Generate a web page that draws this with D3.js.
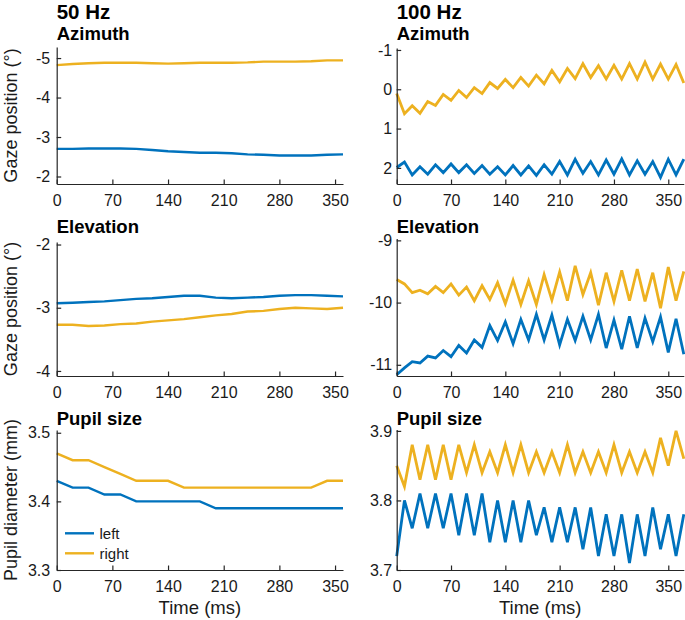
<!DOCTYPE html>
<html>
<head>
<meta charset="utf-8">
<script src="https://cdn.jsdelivr.net/npm/d3@7"></script>
<style>
body { margin: 0; background: #fff; }
text { font-family: "Liberation Sans", Arial, Helvetica, sans-serif; }
</style>
</head>
<body>
<svg id="chart" width="685" height="620"></svg>
<script>
// time stamps (ms)
var time50 = [0, 20, 40, 60, 80, 100, 120, 140, 160, 180, 200, 220, 240, 260, 280, 300, 320, 340, 360];
var time100 = [0, 10, 20, 30, 40, 50, 60, 70, 80, 90, 100, 110, 120, 130, 140, 150, 160, 170, 180, 190,
               200, 210, 220, 230, 240, 250, 260, 270, 280, 290, 300, 310, 320, 330, 340, 350, 360, 370];
var xTicks = [0, 70, 140, 210, 280, 350];

// 50 Hz
var azLeft50 = [-2.70, -2.70, -2.71, -2.71, -2.71, -2.70, -2.67, -2.64, -2.62, -2.60, -2.60, -2.59, -2.56, -2.55, -2.53, -2.53, -2.53, -2.55, -2.56];
var azRight50 = [-4.82, -4.85, -4.87, -4.88, -4.88, -4.88, -4.87, -4.86, -4.87, -4.88, -4.88, -4.88, -4.89, -4.91, -4.91, -4.91, -4.92, -4.94, -4.94];
var elLeft50 = [-2.93, -2.92, -2.91, -2.90, -2.88, -2.86, -2.85, -2.83, -2.81, -2.81, -2.84, -2.85, -2.84, -2.83, -2.81, -2.80, -2.80, -2.81, -2.82];
var elRight50 = [-3.27, -3.27, -3.29, -3.28, -3.26, -3.25, -3.22, -3.20, -3.18, -3.15, -3.12, -3.10, -3.06, -3.05, -3.02, -3.00, -3.01, -3.02, -3.00];
var puLeft50 = [3.43, 3.42, 3.42, 3.41, 3.41, 3.40, 3.40, 3.40, 3.40, 3.40, 3.39, 3.39, 3.39, 3.39, 3.39, 3.39, 3.39, 3.39, 3.39];
var puRight50 = [3.47, 3.46, 3.46, 3.45, 3.44, 3.43, 3.43, 3.43, 3.42, 3.42, 3.42, 3.42, 3.42, 3.42, 3.42, 3.42, 3.42, 3.43, 3.43];

// 100 Hz
var azLeft100 = [1.99, 1.85, 2.18, 1.97, 2.16, 1.92, 2.12, 1.90, 2.12, 1.92, 2.14, 1.94, 2.16, 1.97, 2.18, 1.94, 2.18, 1.95, 2.19,
                 1.92, 2.16, 1.84, 2.18, 1.78, 2.14, 1.84, 2.18, 1.80, 2.16, 1.77, 2.18, 1.82, 2.16, 1.84, 2.24, 1.78, 2.18, 1.78];
var azRight100 = [0.11, 0.62, 0.42, 0.61, 0.31, 0.41, 0.13, 0.28, 0.03, 0.21, -0.04, 0.11, -0.17, -0.02, -0.25, -0.04, -0.30, -0.08, -0.36,
                  -0.14, -0.48, -0.19, -0.53, -0.27, -0.65, -0.30, -0.60, -0.26, -0.61, -0.26, -0.65, -0.26, -0.69, -0.26, -0.64, -0.26, -0.63, -0.16];
var elLeft100 = [-11.16, -11.05, -10.95, -10.97, -10.86, -10.89, -10.77, -10.87, -10.69, -10.81, -10.60, -10.72, -10.37, -10.61, -10.31, -10.66, -10.27, -10.60, -10.19,
                 -10.60, -10.20, -10.68, -10.27, -10.61, -10.22, -10.60, -10.19, -10.73, -10.28, -10.75, -10.22, -10.73, -10.25, -10.63, -10.23, -10.80, -10.26, -10.83];
var elRight100 = [-9.63, -9.70, -9.84, -9.80, -9.86, -9.74, -9.84, -9.70, -9.88, -9.75, -9.97, -9.73, -9.95, -9.68, -10.02, -9.64, -10.03, -9.65, -10.03,
                  -9.55, -9.96, -9.51, -9.97, -9.41, -9.87, -9.52, -10.04, -9.52, -9.98, -9.48, -9.97, -9.46, -9.98, -9.52, -10.09, -9.43, -9.97, -9.50];
var puLeft100 = [3.72, 3.80, 3.76, 3.81, 3.76, 3.81, 3.76, 3.81, 3.75, 3.81, 3.75, 3.81, 3.74, 3.80, 3.74, 3.80, 3.74, 3.80, 3.75,
                 3.79, 3.74, 3.79, 3.74, 3.79, 3.73, 3.79, 3.72, 3.78, 3.72, 3.78, 3.71, 3.78, 3.72, 3.79, 3.73, 3.78, 3.72, 3.78];
var puRight100 = [3.85, 3.82, 3.88, 3.83, 3.88, 3.83, 3.88, 3.83, 3.88, 3.84, 3.88, 3.84, 3.87, 3.84, 3.88, 3.84, 3.88, 3.84, 3.87,
                  3.84, 3.87, 3.84, 3.88, 3.84, 3.87, 3.84, 3.87, 3.84, 3.88, 3.84, 3.87, 3.84, 3.87, 3.84, 3.89, 3.85, 3.90, 3.86];

var colTitles = ["50 Hz", "100 Hz"];
var rowTitles = ["Azimuth", "Elevation", "Pupil size"];
var rowLabels = ["Gaze position (\u00b0)", "Gaze position (\u00b0)", "Pupil diameter (mm)"];
var seriesNames = ["left", "right"];

var blue = "#0072BD", yellow = "#EDB120", axisCol = "#262626";

var svg = d3.select("#chart");

// column geometry
var cols = [
  { x0: 56.7, x1: 343, xmax: 360, time: time50, pad: 6.5 },
  { x0: 396.7, x1: 683.8, xmax: 370, time: time100, pad: 4.5 }
];

// panel layout + y domains (domain ends)
var panels = [
  { col: 0, row: 0, top: 47, bottom: 184, yTop: -5.28, yBot: -1.81, ticks: [-5, -4, -3, -2], l: azLeft50, r: azRight50 },
  { col: 1, row: 0, top: 48, bottom: 184, yTop: -1.05, yBot: 2.41, ticks: [-1, 0, 1, 2], l: azLeft100, r: azRight100 },
  { col: 0, row: 1, top: 242, bottom: 376, yTop: -1.96, yBot: -4.08, ticks: [-4, -3, -2], l: elLeft50, r: elRight50 },
  { col: 1, row: 1, top: 238.5, bottom: 376, yTop: -8.97, yBot: -11.18, ticks: [-11, -10, -9], l: elLeft100, r: elRight100 },
  { col: 0, row: 2, top: 430, bottom: 570, yTop: 3.504, yBot: 3.3, ticks: [3.3, 3.4, 3.5], l: puLeft50, r: puRight50 },
  { col: 1, row: 2, top: 429.5, bottom: 570, yTop: 3.902, yBot: 3.7, ticks: [3.7, 3.8, 3.9], l: puLeft100, r: puRight100 }
];

function styleAxis(g) {
  g.select(".domain").attr("stroke", axisCol).attr("stroke-width", 1.2);
  g.selectAll(".tick line").attr("stroke", axisCol).attr("stroke-width", 1.2);
  g.selectAll(".tick text").attr("fill", "#1a1a1a").attr("font-size", "16px")
    .attr("font-family", '"Liberation Sans", Arial, Helvetica, sans-serif');
}

panels.forEach(function(p) {
  var c = cols[p.col];
  var x = d3.scaleLinear().domain([0, c.xmax]).range([c.x0, c.x1]);
  var y = d3.scaleLinear().domain([p.yBot, p.yTop]).range([p.bottom, p.top]);
  var g = svg.append("g");

  var line = d3.line().x(function(d) { return x(d[0]); }).y(function(d) { return y(d[1]); });
  var lw = p.col === 0 ? 2.4 : 2.8;
  g.append("path").datum(d3.zip(c.time, p.l)).attr("d", line)
    .attr("fill", "none").attr("stroke", blue).attr("stroke-width", lw);
  g.append("path").datum(d3.zip(c.time, p.r)).attr("d", line)
    .attr("fill", "none").attr("stroke", yellow).attr("stroke-width", lw);

  g.append("g").attr("transform", "translate(0," + p.bottom + ")")
    .call(d3.axisBottom(x).tickValues(xTicks).tickSizeInner(-4.5).tickSizeOuter(0).tickPadding(11))
    .call(styleAxis);
  g.append("g").attr("transform", "translate(" + c.x0 + ",0)")
    .call(d3.axisLeft(y).tickValues(p.ticks).tickSizeInner(-4.5).tickSizeOuter(0).tickPadding(c.pad)
      .tickFormat(function(d) { return p.row === 2 ? d3.format(".1f")(d) : String(d); }))
    .call(styleAxis);

  // subplot title
  var tb = [40, 233.3, 425][p.row];
  g.append("text").attr("x", c.x0).attr("y", tb).attr("font-size", "18.5px")
    .attr("font-weight", "bold").attr("fill", "#000").text(rowTitles[p.row]);

  if (p.col === 0) {
    g.append("text")
      .attr("transform", "translate(16.5," + ((p.top + p.bottom) / 2) + ") rotate(-90)")
      .attr("text-anchor", "middle").attr("font-size", "18px").attr("fill", "#1a1a1a")
      .text(rowLabels[p.row]);
  }
  if (p.row === 2) {
    g.append("text").attr("x", (c.x0 + c.x1) / 2).attr("y", 614)
      .attr("text-anchor", "middle").attr("font-size", "18.5px").attr("fill", "#1a1a1a")
      .text("Time (ms)");
  }
  if (p.col === 0 && p.row === 2) {
    var leg = g.append("g");
    [blue, yellow].forEach(function(col, i) {
      var ly = 533.3 + i * 20;
      leg.append("line").attr("x1", 65).attr("x2", 94).attr("y1", ly).attr("y2", ly)
        .attr("stroke", col).attr("stroke-width", 2.4);
      leg.append("text").attr("x", 99.5).attr("y", ly).attr("dy", "0.35em")
        .attr("font-size", "15px").attr("fill", "#1a1a1a").text(seriesNames[i]);
    });
  }
});

// column headers
cols.forEach(function(c, i) {
  svg.append("text").attr("x", c.x0).attr("y", 18.5).attr("font-size", "20.5px")
    .attr("font-weight", "bold").attr("fill", "#000").text(colTitles[i]);
});
</script>
</body>
</html>
